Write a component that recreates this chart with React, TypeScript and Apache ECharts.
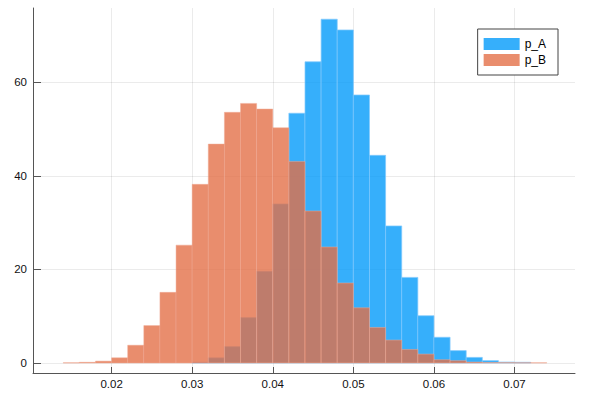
import React, { useEffect, useRef } from "react";
import * as echarts from "echarts";

const binWidth = 0.002;
const aBinStarts = [0.030, 0.032, 0.034, 0.036, 0.038, 0.040, 0.042, 0.044, 0.046, 0.048, 0.050, 0.052, 0.054, 0.056, 0.058, 0.060, 0.062, 0.064, 0.066, 0.068, 0.070];
const aValues = [0.15, 1.1, 3.5, 9.7, 19.6, 34.0, 53.4, 64.4, 73.5, 71.2, 57.3, 44.4, 29.3, 18.3, 10.1, 5.5, 2.65, 1.2, 0.5, 0.2, 0.15];
const bBinStarts = [0.014, 0.016, 0.018, 0.020, 0.022, 0.024, 0.026, 0.028, 0.030, 0.032, 0.034, 0.036, 0.038, 0.040, 0.042, 0.044, 0.046, 0.048, 0.050, 0.052, 0.054, 0.056, 0.058, 0.060, 0.062, 0.064, 0.066, 0.068, 0.070, 0.072];
const bValues = [0.05, 0.15, 0.4, 1.1, 3.8, 8.0, 15.1, 25.2, 38.2, 46.8, 53.6, 55.5, 54.3, 50.3, 43.1, 32.5, 24.8, 17.1, 11.8, 7.6, 4.9, 2.9, 1.9, 0.7, 0.5, 0.2, 0.1, 0.08, 0.05, 0.05];
const xTicks = [0.02, 0.03, 0.04, 0.05, 0.06, 0.07];
const yTicks = [0, 20, 40, 60];
const seriesNames = ["p_A", "p_B"];

const FONT = "Liberation Sans";

function makeSeries(name: string, starts: number[], vals: number[], fill: string, stroke: string) {
  return {
    type: "custom",
    name,
    data: starts.map((s, i) => [s, s + binWidth, vals[i]]),
    encode: { x: [0, 1], y: 2 },
    itemStyle: { color: fill },
    renderItem: (params: any, api: any) => {
      const p0 = api.coord([api.value(0), api.value(2)]);
      const p1 = api.coord([api.value(1), 0]);
      return {
        type: "rect",
        shape: { x: p0[0], y: p0[1], width: p1[0] - p0[0], height: p1[1] - p0[1] },
        style: { fill, stroke, lineWidth: 0.8 },
      };
    },
  };
}

export default function App() {
  const ref = useRef<HTMLDivElement>(null);
  useEffect(() => {
    if (!ref.current) return;
    const chart = echarts.init(ref.current, null, { renderer: "svg" });
    const axisLabelStyle = { color: "#111", fontFamily: FONT, fontSize: 11.5 };
    chart.setOption({
      animation: false,
      backgroundColor: "#fff",
      grid: { left: 33, right: 17, top: 8, bottom: 24, containLabel: false },
      legend: {
        data: seriesNames.map((n) => ({ name: n, icon: "rect" })),
        orient: "vertical",
        right: 34,
        top: 29,
        itemWidth: 36,
        itemHeight: 12,
        itemGap: 4,
        itemStyle: { borderWidth: 0 },
        padding: [9, 12, 9, 6],
        borderColor: "#444",
        borderWidth: 1,
        backgroundColor: "#fff",
        textStyle: { color: "#000", fontFamily: FONT, fontSize: 12, padding: [0, 0, 0, 0] },
      },
      xAxis: {
        type: "value",
        min: 0.01025,
        max: 0.0775,
        axisLine: { show: true, onZero: false, lineStyle: { color: "#555", width: 1 } },
        axisTick: { show: true, inside: true, length: 6, customValues: xTicks, lineStyle: { color: "#555" } },
        axisLabel: { customValues: xTicks, margin: 5, ...axisLabelStyle, formatter: (v: number) => v.toFixed(2) },
        splitLine: { show: true, lineStyle: { color: "rgba(0,0,0,0.08)", width: 1 } },
      },
      yAxis: {
        type: "value",
        min: -2.14,
        max: 75.9,
        axisLine: { show: true, onZero: false, lineStyle: { color: "#555", width: 1 } },
        axisTick: { show: true, inside: true, length: 8, customValues: yTicks, lineStyle: { color: "#555" } },
        axisLabel: { customValues: yTicks, margin: 6, ...axisLabelStyle },
        splitLine: { show: true, lineStyle: { color: "rgba(0,0,0,0.08)", width: 1 } },
      },
      series: [
        makeSeries(seriesNames[0], aBinStarts, aValues, "rgba(0,154,250,0.79)", "rgba(130,200,252,0.9)"),
        makeSeries(seriesNames[1], bBinStarts, bValues, "rgba(227,111,70,0.79)", "rgba(240,170,150,0.6)"),
      ],
    });
    return () => chart.dispose();
  }, []);
  return <div ref={ref} style={{ width: 592, height: 397, position: "absolute", left: 0, top: 0 }} />;
}
